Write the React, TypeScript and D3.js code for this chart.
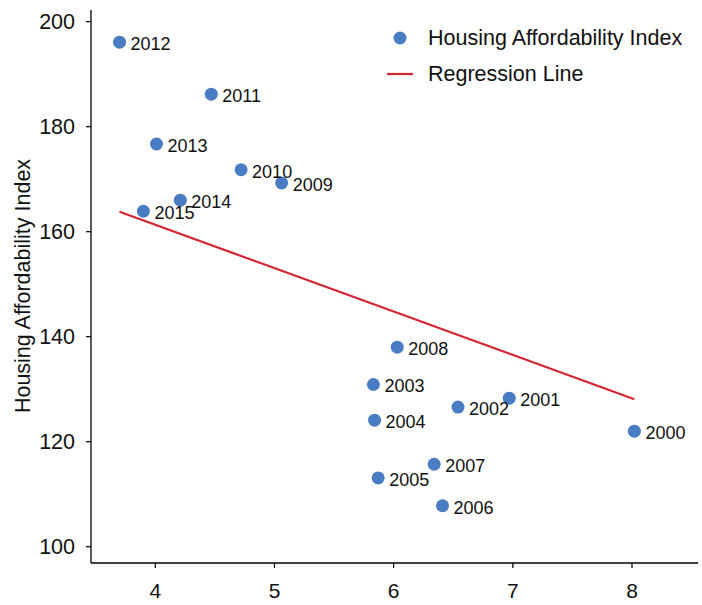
import React from "react";
import * as d3 from "d3";

const years = ["2000","2001","2002","2003","2004","2005","2006","2007","2008","2009","2010","2011","2012","2013","2014","2015"];
const xValues = [8.02, 6.97, 6.54, 5.83, 5.84, 5.87, 6.41, 6.34, 6.03, 5.06, 4.72, 4.47, 3.70, 4.01, 4.21, 3.90];
const yValues = [122.0, 128.3, 126.6, 130.9, 124.1, 113.1, 107.8, 115.7, 138.0, 169.3, 171.8, 186.2, 196.1, 176.7, 166.0, 163.9];
const regressionX = [3.70, 8.02];
const regressionY = [163.8, 128.1];
const xTicks = [4, 5, 6, 7, 8];
const yTicks = [100, 120, 140, 160, 180, 200];

const W = 702, H = 605;
const FONT = "'Liberation Sans', Arial, Helvetica, sans-serif";
const BLUE = "#4a7cc4";
const RED = "#d62530";

export default function App() {
  const x = d3.scaleLinear().domain([4, 8]).range([155.3, 632]);
  const y = d3.scaleLinear().domain([100, 200]).range([546.7, 21.7]);
  const left = 91, bottom = 563, top = 10, right = 698;
  const line = d3.line<number>().x((d, i) => x(regressionX[i])).y((d) => y(d));
  return (
    <svg width={W} height={H} style={{ position: "absolute", left: 0, top: 0 }} fontFamily={FONT}>
      <rect width={W} height={H} fill="#fff" />
      <line x1={left} x2={left} y1={top} y2={bottom} stroke="#000" strokeWidth={1.3} />
      <line x1={left} x2={right} y1={bottom} y2={bottom} stroke="#000" strokeWidth={1.3} />
      {yTicks.map((t) => (
        <g key={t}>
          <line x1={left - 5} x2={left} y1={y(t)} y2={y(t)} stroke="#000" strokeWidth={1.2} />
          <text x={left - 16} y={y(t)} dy="0.35em" textAnchor="end" fontSize={21.5} fill="#111">{t}</text>
        </g>
      ))}
      {xTicks.map((t) => (
        <g key={t}>
          <line x1={x(t)} x2={x(t)} y1={bottom} y2={bottom + 5} stroke="#000" strokeWidth={1.2} />
          <text x={x(t)} y={597.5} textAnchor="middle" fontSize={21} fill="#111">{t}</text>
        </g>
      ))}
      <text transform={`translate(30,286) rotate(-90)`} textAnchor="middle" fontSize={21.5} fill="#111">Housing Affordability Index</text>
      <path d={line(regressionY) || ""} fill="none" stroke={RED} strokeWidth={2.2} />
      {years.map((yr, i) => (
        <g key={yr}>
          <circle cx={x(xValues[i])} cy={y(yValues[i])} r={6.5} fill={BLUE} />
          <text x={x(xValues[i]) + 11} y={y(yValues[i]) + 8} fontSize={18} fill="#111">{yr}</text>
        </g>
      ))}
      <circle cx={400} cy={38} r={6.5} fill={BLUE} />
      <text x={428} y={44.5} fontSize={21.5} fill="#111">Housing Affordability Index</text>
      <line x1={387} x2={413} y1={74} y2={74} stroke={RED} strokeWidth={2.2} />
      <text x={428} y={80.5} fontSize={21.5} fill="#111">Regression Line</text>
    </svg>
  );
}
